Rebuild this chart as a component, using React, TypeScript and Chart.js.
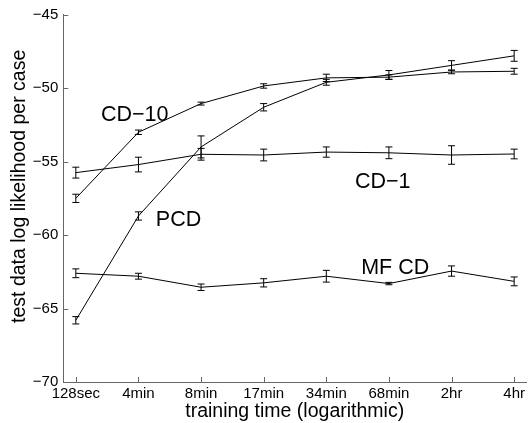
import React, { useEffect, useRef } from "react";
import { Chart, registerables } from "chart.js";

Chart.register(...registerables);

const categories = ["128sec", "4min", "8min", "17min", "34min", "68min", "2hr", "4hr"];

const cd10 = [-57.5, -53.0, -51.05, -49.85, -49.3, -49.25, -48.9, -48.85];
const cd10Err = [0.28, 0.15, 0.1, 0.15, 0.25, 0.15, 0.12, 0.2];

const pcd = [-65.8, -58.7, -54.0, -51.3, -49.6, -49.1, -48.45, -47.8];
const pcdErr = [0.25, 0.28, 0.75, 0.25, 0.2, 0.3, 0.32, 0.37];

const cd1 = [-55.75, -55.2, -54.5, -54.55, -54.35, -54.4, -54.55, -54.48];
const cd1Err = [0.37, 0.5, 0.4, 0.4, 0.35, 0.4, 0.63, 0.33];

const mfcd = [-62.6, -62.8, -63.55, -63.25, -62.8, -63.3, -62.45, -63.15];
const mfcdErr = [0.3, 0.2, 0.22, 0.28, 0.4, 0.08, 0.35, 0.3];

const yTicks = [-70, -65, -60, -55, -50, -45];

const labelText = ["CD\u221210", "PCD", "CD\u22121", "MF CD"];
const labelX = [0.94, 1.64, 4.9, 5.1];
const labelY = [-51.71, -58.83, -56.24, -62.14];

const yTitle = "test data log likelihood per case";
const xTitle = "training time (logarithmic)";

const FONT = "'Liberation Sans', Arial, Helvetica, sans-serif";
const AXIS_COLOR = "#666";

const seriesList = [
  { name: "CD-10", values: cd10, errors: cd10Err },
  { name: "PCD", values: pcd, errors: pcdErr },
  { name: "CD-1", values: cd1, errors: cd1Err },
  { name: "MF CD", values: mfcd, errors: mfcdErr },
];

const decorPlugin = {
  id: "decor",
  afterDatasetsDraw(chart: any) {
    const { ctx, scales } = chart;
    const xs = scales.x;
    const ys = scales.y;
    ctx.save();
    ctx.strokeStyle = "#000";
    ctx.lineWidth = 1;
    const cap = 3.5;
    seriesList.forEach((s) => {
      s.values.forEach((v, i) => {
        const x = xs.getPixelForValue(i);
        const yTop = ys.getPixelForValue(v + s.errors[i]);
        const yBot = ys.getPixelForValue(v - s.errors[i]);
        ctx.beginPath();
        ctx.moveTo(x, yTop);
        ctx.lineTo(x, yBot);
        ctx.moveTo(x - cap, yTop);
        ctx.lineTo(x + cap, yTop);
        ctx.moveTo(x - cap, yBot);
        ctx.lineTo(x + cap, yBot);
        ctx.stroke();
      });
    });
    ctx.restore();
  },
  afterDraw(chart: any) {
    const { ctx, scales, chartArea } = chart;
    const xs = scales.x;
    const ys = scales.y;
    ctx.save();
    // inward tick marks
    ctx.strokeStyle = AXIS_COLOR;
    ctx.lineWidth = 1;
    const tl = 5;
    yTicks.forEach((t) => {
      const y = Math.round(ys.getPixelForValue(t)) + 0.5;
      ctx.beginPath();
      ctx.moveTo(chartArea.left, y);
      ctx.lineTo(chartArea.left + tl, y);
      ctx.stroke();
    });
    categories.forEach((_, i) => {
      const x = Math.round(xs.getPixelForValue(i)) + 0.5;
      ctx.beginPath();
      ctx.moveTo(x, chartArea.bottom);
      ctx.lineTo(x, chartArea.bottom - tl);
      ctx.stroke();
    });
    // series labels
    const fs = 21.5;
    ctx.fillStyle = "#000";
    ctx.font = `${fs}px ${FONT}`;
    ctx.textAlign = "center";
    ctx.textBaseline = "alphabetic";
    labelText.forEach((t, i) => {
      const x = xs.getPixelForValue(labelX[i]);
      const y = ys.getPixelForValue(labelY[i]) + fs * 0.358;
      ctx.fillText(t, x, y);
    });
    // y axis title (rotated), centred slightly above the axis middle as in the reference
    ctx.save();
    ctx.font = `19.5px ${FONT}`;
    ctx.textAlign = "center";
    ctx.textBaseline = "middle";
    const cy = (chartArea.top + chartArea.bottom) / 2 - 12;
    ctx.translate(20, cy);
    ctx.rotate(-Math.PI / 2);
    ctx.fillText(yTitle, 0, 0);
    ctx.restore();
    ctx.restore();
  },
};

export default function App() {
  const canvasRef = useRef<HTMLCanvasElement | null>(null);

  useEffect(() => {
    const canvas = canvasRef.current;
    if (!canvas) return;
    const chart = new Chart(canvas, {
      type: "line",
      data: {
        datasets: seriesList.map((s) => ({
          label: s.name,
          data: s.values.map((v, i) => ({ x: i, y: v })),
          borderColor: "#000",
          backgroundColor: "#000",
          borderWidth: 1,
          pointRadius: 0,
          fill: false,
          tension: 0,
        })),
      },
      options: {
        responsive: false,
        animation: false,
        devicePixelRatio: 1,
        layout: { padding: { top: 14.7, left: 0, right: 0, bottom: 0 } },
        plugins: {
          legend: { display: false },
          tooltip: { enabled: false },
        },
        scales: {
          x: {
            type: "linear",
            min: -0.2,
            max: 7.19,
            afterFit: (scale: any) => {
              scale.height = 41;
            },
            afterBuildTicks: (scale: any) => {
              scale.ticks = categories.map((_, i) => ({ value: i }));
            },
            grid: { display: false, drawTicks: false },
            border: { display: true, color: AXIS_COLOR, width: 1 },
            ticks: {
              autoSkip: false,
              maxRotation: 0,
              padding: 3,
              color: "#000",
              font: { family: FONT, size: 15 },
              callback: (v: any) => {
                const i = Math.round(Number(v));
                return Math.abs(Number(v) - i) < 1e-6 ? categories[i] ?? "" : "";
              },
            },
            title: {
              display: true,
              text: xTitle,
              color: "#000",
              font: { family: FONT, size: 19.5 },
              padding: { top: 0, bottom: 0 },
            },
          },
          y: {
            type: "linear",
            min: -70,
            max: -45,
            afterFit: (scale: any) => {
              scale.width = 63.3;
            },
            afterBuildTicks: (scale: any) => {
              scale.ticks = yTicks.map((v) => ({ value: v }));
            },
            grid: { display: false, drawTicks: false },
            border: { display: true, color: AXIS_COLOR, width: 1 },
            ticks: {
              padding: 5,
              color: "#000",
              font: { family: FONT, size: 15 },
              callback: (v: any) => (Number(v) < 0 ? "\u2212" + Math.abs(Number(v)) : String(v)),
            },
            title: { display: false },
          },
        },
      },
      plugins: [decorPlugin],
    });
    return () => chart.destroy();
  }, []);

  return (
    <div style={{ position: "absolute", left: 0, top: 0, width: 528, height: 423, background: "#fff" }}>
      <canvas ref={canvasRef} width={528} height={423} style={{ display: "block" }} />
    </div>
  );
}
